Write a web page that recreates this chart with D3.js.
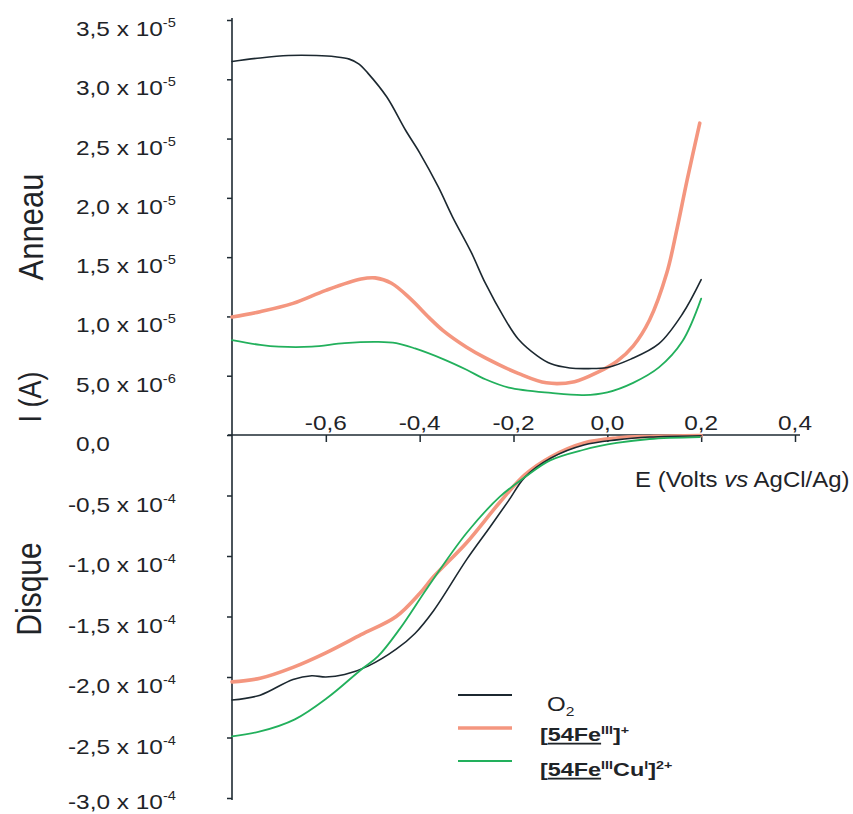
<!DOCTYPE html>
<html>
<head>
<meta charset="utf-8">
<script src="https://cdn.jsdelivr.net/npm/d3@7"></script>
<style>
  html, body { margin: 0; padding: 0; background: #fff; }
  svg { display: block; }
  text { font-family: "Liberation Sans", Arial, sans-serif; fill: #1f2428; }
</style>
</head>
<body>
<svg id="chart" width="853" height="814"></svg>
<script>
// ---------------- DATA ----------------
// Potential E (V vs AgCl/Ag); ring currents in units of 1e-5 A, disk currents in units of 1e-4 A
const ringE_O2   = [-0.80,-0.74,-0.68,-0.62,-0.58,-0.55,-0.53,-0.51,-0.47,-0.43,-0.40,-0.36,-0.33,-0.29,-0.26,-0.22,-0.19,-0.15,-0.12,-0.08,-0.04,0.00,0.05,0.11,0.16,0.20];
const ringI_O2   = [3.15,3.18,3.20,3.20,3.19,3.17,3.13,3.05,2.85,2.57,2.38,2.09,1.84,1.54,1.28,0.99,0.81,0.67,0.60,0.565,0.56,0.57,0.64,0.77,1.02,1.31];

const ringE_Fe   = [-0.80,-0.74,-0.67,-0.60,-0.525,-0.495,-0.46,-0.42,-0.38,-0.35,-0.30,-0.26,-0.19,-0.13,-0.07,-0.02,0.02,0.055,0.09,0.127,0.148,0.17,0.197];
const ringI_Fe   = [0.995,1.04,1.11,1.22,1.315,1.325,1.28,1.15,0.99,0.88,0.74,0.65,0.52,0.44,0.45,0.53,0.62,0.75,0.97,1.37,1.73,2.15,2.63];

const ringE_FeCu = [-0.80,-0.74,-0.70,-0.63,-0.56,-0.49,-0.45,-0.41,-0.35,-0.30,-0.26,-0.21,-0.12,-0.05,0.00,0.055,0.11,0.16,0.20];
const ringI_FeCu = [0.80,0.76,0.745,0.745,0.775,0.785,0.775,0.73,0.64,0.55,0.47,0.40,0.355,0.337,0.36,0.44,0.57,0.79,1.15];

const diskE_O2   = [-0.80,-0.74,-0.67,-0.63,-0.60,-0.56,-0.51,-0.45,-0.41,-0.37,-0.30,-0.25,-0.21,-0.176,-0.12,-0.05,0.02,0.09,0.20];
const diskI_O2   = [-2.19,-2.15,-2.02,-1.99,-2.00,-1.98,-1.91,-1.77,-1.64,-1.45,-1.03,-0.76,-0.54,-0.35,-0.19,-0.083,-0.04,-0.017,-0.006];

const diskE_Fe   = [-0.80,-0.74,-0.67,-0.60,-0.525,-0.45,-0.40,-0.37,-0.30,-0.23,-0.176,-0.12,-0.05,0.02,0.09,0.20];
const diskI_Fe   = [-2.04,-2.01,-1.92,-1.80,-1.65,-1.50,-1.31,-1.17,-0.89,-0.56,-0.33,-0.18,-0.066,-0.025,-0.012,-0.005];

const diskE_FeCu = [-0.80,-0.74,-0.666,-0.596,-0.525,-0.489,-0.442,-0.383,-0.30,-0.229,-0.176,-0.122,-0.052,0.02,0.09,0.197];
const diskI_FeCu = [-2.49,-2.45,-2.35,-2.17,-1.94,-1.83,-1.60,-1.26,-0.81,-0.51,-0.35,-0.21,-0.124,-0.066,-0.033,-0.017];

const xTicks      = [-0.6,-0.4,-0.2,0.0,0.2,0.4];
const xTickLabels = ["-0,6","-0,4","-0,2","0,0","0,2","0,4"];

const ringTicks    = [0,0.5,1.0,1.5,2.0,2.5,3.0,3.5];
const ringTickMant = ["0,0","5,0","1,0","1,5","2,0","2,5","3,0","3,5"];
const ringTickExp  = [null,"-6","-5","-5","-5","-5","-5","-5"];

const diskTicks    = [-0.5,-1.0,-1.5,-2.0,-2.5,-3.0];
const diskTickMant = ["-0,5","-1,0","-1,5","-2,0","-2,5","-3,0"];
const diskTickExp  = ["-4","-4","-4","-4","-4","-4"];

const seriesNames  = ["O2","[54FeIII]+","[54FeIIICuI]2+"];
const seriesColors = ["#1c2830","#f4967f","#22b05c"];

// ---------------- DRAW ----------------
const svg = d3.select("#chart");
const x = d3.scaleLinear().domain([-0.8, 0.4]).range([232, 795]);
const yRing = d3.scaleLinear().domain([0, 3.5]).range([435, 20]);
const yDisk = d3.scaleLinear().domain([-3.0, 0]).range([798, 435]);
const axisColor = "#1e2a32";

// Y axis (ring part and disk part)
const gyR = svg.append("g").attr("transform", `translate(${x(-0.8)},0)`)
  .call(d3.axisLeft(yRing).tickValues(ringTicks).tickSize(5).tickSizeOuter(0).tickFormat(""));
const gyD = svg.append("g").attr("transform", `translate(${x(-0.8)},0)`)
  .call(d3.axisLeft(yDisk).tickValues(diskTicks).tickSize(5).tickSizeOuter(0).tickFormat(""));
[gyR, gyD].forEach(g => {
  g.select(".domain").remove();
  g.selectAll(".tick line").attr("stroke", axisColor).attr("stroke-width", 1.5);
});
svg.append("line")
  .attr("x1", x(-0.8)).attr("x2", x(-0.8))
  .attr("y1", yRing(3.5) - 2).attr("y2", yDisk(-3.0) + 2)
  .attr("stroke", axisColor).attr("stroke-width", 1.6);

// X axis at I = 0
const gx = svg.append("g").attr("transform", `translate(0,${yRing(0)})`)
  .call(d3.axisBottom(x).tickValues(xTicks).tickSize(7).tickSizeOuter(0).tickFormat(""));
gx.select(".domain").remove();
gx.selectAll(".tick line").attr("stroke", axisColor).attr("stroke-width", 1.5);
svg.append("line")
  .attr("x1", x(-0.8) - 4).attr("x2", x(0.4) + 5)
  .attr("y1", yRing(0)).attr("y2", yRing(0))
  .attr("stroke", axisColor).attr("stroke-width", 1.6);

// X tick labels (above the axis)
xTicks.forEach((v, i) => {
  svg.append("g").attr("transform", `translate(${x(v)},${yRing(0) - 5}) scale(1.22,1)`)
    .append("text").attr("text-anchor", "middle").attr("font-size", 20)
    .text(xTickLabels[i]);
});

// Y tick labels
function yLabel(yPos, mant, exp) {
  const neg = mant.startsWith("-");
  const bx = neg ? 68 : 76;
  const by = Math.min(yPos + 16, 809);
  const t = svg.append("g").attr("transform", `translate(${bx},${by}) scale(1.22,1)`)
    .append("text").attr("font-size", 20);
  if (exp) {
    t.append("tspan").text(mant + " x 10");
    t.append("tspan").attr("font-size", 12).attr("dy", -9).text(exp);
  } else {
    t.text(mant);
  }
}
ringTicks.forEach((v, i) => yLabel(yRing(v), ringTickMant[i], ringTickExp[i]));
diskTicks.forEach((v, i) => yLabel(yDisk(v), diskTickMant[i], diskTickExp[i]));

// Axis titles
const xt = svg.append("g").attr("transform", "translate(635,487) scale(1.09,1)")
  .append("text").attr("font-size", 22);
xt.append("tspan").text("E (Volts ");
xt.append("tspan").attr("font-style", "italic").text("vs");
xt.append("tspan").text(" AgCl/Ag)");

function vLabel(cx, cy, size, txt) {
  svg.append("g").attr("transform", `translate(${cx},${cy}) scale(1.15,1) rotate(-90)`)
    .append("text").attr("text-anchor", "middle").attr("font-size", size).text(txt);
}
vLabel(43, 227, 31, "Anneau");
vLabel(41, 397, 27, "I (A)");
vLabel(41, 589, 30, "Disque");

// Curves
const curveType = d3.curveCatmullRom.alpha(0.5);
const lineRing = d3.line().x(d => x(d[0])).y(d => yRing(d[1])).curve(curveType);
const lineDisk = d3.line().x(d => x(d[0])).y(d => yDisk(d[1])).curve(curveType);
const zip = (a, b) => a.map((v, i) => [v, b[i]]);

const curves = [
  { d: zip(ringE_Fe, ringI_Fe), gen: lineRing, c: seriesColors[1], w: 3.6 },
  { d: zip(diskE_Fe, diskI_Fe), gen: lineDisk, c: seriesColors[1], w: 3.6 },
  { d: zip(ringE_O2, ringI_O2), gen: lineRing, c: seriesColors[0], w: 1.6 },
  { d: zip(diskE_O2, diskI_O2), gen: lineDisk, c: seriesColors[0], w: 1.6 },
  { d: zip(ringE_FeCu, ringI_FeCu), gen: lineRing, c: seriesColors[2], w: 1.8 },
  { d: zip(diskE_FeCu, diskI_FeCu), gen: lineDisk, c: seriesColors[2], w: 1.8 }
];
curves.forEach(s => {
  svg.append("path").attr("d", s.gen(s.d))
    .attr("fill", "none").attr("stroke", s.c).attr("stroke-width", s.w)
    .attr("stroke-linejoin", "round").attr("stroke-linecap", "round");
});

// Legend
const legY = [695, 728, 761];
const legW = [1.8, 3.6, 2.2];
seriesNames.forEach((n, i) => {
  svg.append("line").attr("x1", 458).attr("x2", 512)
    .attr("y1", legY[i]).attr("y2", legY[i])
    .attr("stroke", seriesColors[i]).attr("stroke-width", legW[i]);
});
// O2
{
  const t = svg.append("g").attr("transform", "translate(547,711) scale(1.2,1)")
    .append("text").attr("font-size", 20);
  t.append("tspan").text("O");
  t.append("tspan").attr("font-size", 13).attr("dy", 5).text("2");
}
// [54FeIII]+
{
  const t = svg.append("g").attr("transform", "translate(540,741) scale(1.3,1)")
    .append("text").attr("font-size", 18).attr("font-weight", "bold");
  t.append("tspan").text("[");
  t.append("tspan").attr("text-decoration", "underline").text("54Fe");
  t.append("tspan").attr("font-size", 11).attr("dy", -7).text("III");
  t.append("tspan").attr("dy", 7).text("]");
  t.append("tspan").attr("font-size", 11).attr("dy", -7).text("+");
}
// [54FeIIICuI]2+
{
  const t = svg.append("g").attr("transform", "translate(540,776) scale(1.3,1)")
    .append("text").attr("font-size", 18).attr("font-weight", "bold");
  t.append("tspan").text("[");
  t.append("tspan").attr("text-decoration", "underline").text("54Fe");
  t.append("tspan").attr("font-size", 11).attr("dy", -7).text("III");
  t.append("tspan").attr("dy", 7).text("Cu");
  t.append("tspan").attr("font-size", 11).attr("dy", -7).text("I");
  t.append("tspan").attr("dy", 7).text("]");
  t.append("tspan").attr("font-size", 11).attr("dy", -7).text("2+");
}
</script>
</body>
</html>
